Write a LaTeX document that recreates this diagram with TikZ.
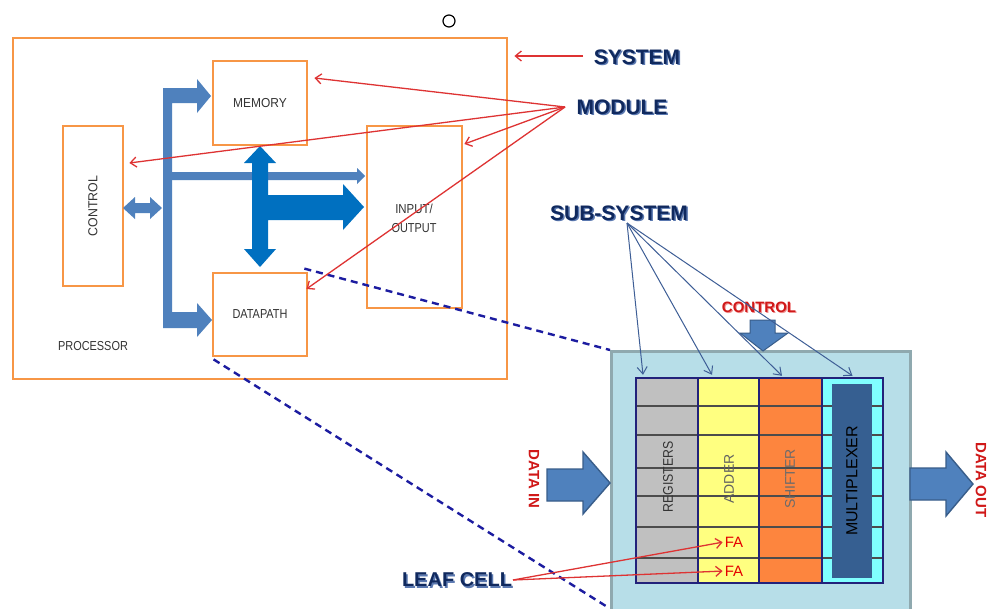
\documentclass[tikz,border=0pt]{standalone}
\usepackage{fontspec}
\setmainfont{Liberation Sans}
\usetikzlibrary{arrows.meta,calc}

\definecolor{boxorange}{HTML}{F79646}
\definecolor{busblue}{HTML}{4F81BD}
\definecolor{busdark}{HTML}{0070C0}
\definecolor{lblgray}{HTML}{333333}
\definecolor{callred}{HTML}{DE3333}
\definecolor{titlenavy}{HTML}{10295E}
\definecolor{titleshade}{HTML}{5A78B0}
\definecolor{subarrow}{HTML}{3E5E96}
\definecolor{subfill}{HTML}{B7DEE8}
\definecolor{subedge}{HTML}{8FA9AF}
\definecolor{gridnavy}{HTML}{22227A}
\definecolor{regfill}{HTML}{C0C0C0}
\definecolor{addfill}{HTML}{FFFF80}
\definecolor{shiftfill}{HTML}{FD853E}
\definecolor{muxfill}{HTML}{80FFFF}
\definecolor{muxbox}{HTML}{365F91}
\definecolor{dashnavy}{HTML}{1C1CA0}
\definecolor{portred}{HTML}{D01818}
\definecolor{portshade}{HTML}{F09090}
\definecolor{arrowedge}{HTML}{385D8A}

\newcommand{\squeeze}[2]{\scalebox{#1}[1]{#2}}

\tikzset{
  obox/.style={draw=boxorange, line width=2.8pt, inner sep=0pt},
  boxlbl/.style={text=lblgray, font=\fontsize{13}{19}\selectfont, inner sep=0pt, align=center},
  title/.style={text=titlenavy, font=\bfseries\fontsize{21}{21}\selectfont, inner sep=1pt},
  titlesh/.style={text=titleshade, font=\bfseries\fontsize{21}{21}\selectfont, inner sep=1pt},
  callout/.style={draw=callred, line width=1.3pt, -{Straight Barb[length=6pt,width=10pt]}},
  subcall/.style={draw=subarrow, line width=1pt, -{Straight Barb[length=7pt,width=10pt]}},
  cell/.style={inner sep=0pt, draw=none},
  rowline/.style={draw=black!70, line width=1.1pt},
  celltxt/.style={font=\fontsize{14}{14}\selectfont, inner sep=0pt},
  portlbl/.style={text=portred, font=\bfseries\fontsize{15}{15}\selectfont, inner sep=0pt},
  fatxt/.style={text=red!90!black, font=\fontsize{15}{15}\selectfont, inner sep=1pt},
  bigarrow/.style={fill=busblue, draw=arrowedge, line width=1.4pt, line join=miter},
  linkdash/.style={draw=dashnavy, line width=2.4pt, dash pattern=on 7pt off 5pt}
}

\begin{document}
\begin{tikzpicture}[x=1pt,y=-1pt]
\useasboundingbox (0,0) rectangle (988,608);
\fill[white] (0,0) rectangle (988,608);

% small marker circle
\draw[line width=1.2pt] (449,21) circle (6);

% ---------------- processor (system) ----------------
\node[obox, minimum width=494, minimum height=341] (proc) at (260,208.5) {};
\node[obox, minimum width=94, minimum height=84] (memory) at (260,103)
  {\textcolor{lblgray}{\fontsize{13}{13}\selectfont\squeeze{0.92}{MEMORY}}};
\node[obox, minimum width=60, minimum height=160] (control) at (93,206)
  {\rotatebox{90}{\textcolor{lblgray}{\fontsize{13}{13}\selectfont\squeeze{0.95}{CONTROL}}}};
\node[obox, minimum width=95, minimum height=182] (io) at (414.5,217) {};
\node[boxlbl] (iotext) at (414,218) {\squeeze{0.88}{INPUT/}\\\squeeze{0.84}{OUTPUT}};
\node[obox, minimum width=94, minimum height=83] (datapath) at (260,314.5)
  {\textcolor{lblgray}{\fontsize{13}{13}\selectfont\squeeze{0.84}{DATAPATH}}};
\node[boxlbl] (proclbl) at (93,346) {\squeeze{0.84}{PROCESSOR}};

% main bus with branches to memory and datapath
\fill[busblue] (163,88) -- (197,88) -- (197,79) -- (211,96) -- (197,113) -- (197,103)
  -- (172,103) -- (172,312) -- (197,312) -- (197,303) -- (212,320) -- (197,337)
  -- (197,328) -- (163,328) -- cycle;
% thin branch to input/output
\fill[busblue] (172,172) -- (357,172) -- (357,168) -- (365,176) -- (357,184)
  -- (357,180) -- (172,180) -- cycle;
% control <-> bus
\fill[busblue] (123,208) -- (135,197) -- (135,203) -- (150,203) -- (150,197)
  -- (162,208) -- (150,219) -- (150,213) -- (135,213) -- (135,219) -- cycle;
% memory <-> datapath with branch to input/output
\fill[busdark] (260,146) -- (276,163) -- (268,163) -- (268,195) -- (343,195)
  -- (343,184) -- (364,207) -- (343,230) -- (343,220) -- (268,220) -- (268,249)
  -- (276,249) -- (260,267) -- (244,249) -- (252,249) -- (252,163) -- (244,163) -- cycle;

% ---------------- sub-system block ----------------
\node[draw=subedge, fill=subfill, line width=2.5pt, inner sep=0pt,
      minimum width=299, minimum height=270, anchor=north west] (subsys) at (610,350) {};

\node[cell, fill=regfill,   minimum width=62, minimum height=205] (reg)   at (667,480.5) {};
\node[cell, fill=addfill,   minimum width=61, minimum height=205] (adder) at (728.5,480.5) {};
\node[cell, fill=shiftfill, minimum width=63, minimum height=205] (shift) at (790.5,480.5) {};
\node[cell, fill=muxfill,   minimum width=61, minimum height=205] (mux)   at (852.5,480.5) {};

\foreach \yy in {406,435,468,496,527,558}
  \draw[rowline] (636,\yy) -- (883,\yy);

\node[cell, fill=muxbox, minimum width=40, minimum height=194] (muxcore) at (852,481)
  {\rotatebox{90}{\fontsize{16}{16}\selectfont\color{black}MULTIPLEXER}};

\draw[gridnavy, line width=2.2pt] (636,378) rectangle (883,583);
\foreach \xx in {698,759,822}
  \draw[gridnavy, line width=2.2pt] (\xx,378) -- (\xx,583);

\node[celltxt, text=black!80] (regtxt) at (668,477) {\rotatebox{90}{\squeeze{0.88}{REGISTERS}}};
\node[celltxt, text=black!62] (addtxt) at (729,479) {\rotatebox{90}{ADDER}};
\node[celltxt, text=black!58] (shifttxt) at (790,479) {\rotatebox{90}{SHIFTER}};

\node[fatxt] (fa1) at (734,542) {FA};
\node[fatxt] (fa2) at (734,571) {FA};

% control input arrow
\draw[bigarrow, line width=1pt] (750,320) -- (775,320) -- (775,333) -- (788,333)
  -- (763,351) -- (740,333) -- (750,333) -- cycle;
\node[portlbl, text=portshade] (ctlsh) at (760,308) {CONTROL};
\node[portlbl] (ctl) at (759,307) {CONTROL};

% data in / data out arrows
\draw[bigarrow] (547,469) -- (583,469) -- (583,452) -- (610,483) -- (583,514)
  -- (583,501) -- (547,501) -- cycle;
\draw[bigarrow] (910,468) -- (946,468) -- (946,452) -- (973,484) -- (946,516)
  -- (946,500) -- (910,500) -- cycle;
\node[portlbl] (datain) at (534,479) {\rotatebox{-90}{DATA IN}};
\node[portlbl] (dataout) at (981,480) {\rotatebox{-90}{DATA OUT}};

% zoom-in links from the datapath
\coordinate (dpcorner) at ($(datapath.north east)+(-4,-3)$);
\coordinate (dpfoot) at ($(datapath.south west)+(2,2)$);
\coordinate (subfoot) at (609,608);
\draw[linkdash] (dpcorner) -- (subsys.north west);
\draw[linkdash] (dpfoot) -- (subfoot);

% ---------------- hierarchy labels ----------------
\node[titlesh] (systemsh) at (638.5,58.5) {SYSTEM};
\node[title] (system) at (637,57) {SYSTEM};
\node[titlesh] (modulesh) at (623.5,108.5) {MODULE};
\node[title] (module) at (622,107) {MODULE};
\node[titlesh] (subsyssh) at (620.5,214.5) {SUB-SYSTEM};
\node[title] (subsyslbl) at (619,213) {SUB-SYSTEM};
\node[titlesh, font=\bfseries\fontsize{20}{20}\selectfont] (leafsh) at (458.5,581.5) {LEAF CELL};
\node[title, font=\bfseries\fontsize{20}{20}\selectfont] (leaf) at (457,580) {LEAF CELL};

% system callout
\coordinate (systail) at (583,56);
\coordinate (systip) at ($(systail -| proc.east)+(6,0)$);
\draw[callout] (systail) -- (systip);

% module callouts
\coordinate (modsrc) at (565,107);
\coordinate (memtip) at ($(memory.east)+(6,-25)$);
\coordinate (ctltip) at ($(control.east)+(5,-43)$);
\coordinate (iotip) at ($(io.east)+(1,-73)$);
\coordinate (dptip) at ($(datapath.east)+(-2,-25.5)$);
\draw[callout] (modsrc) -- (memtip);
\draw[callout] (modsrc) -- (ctltip);
\draw[callout] (modsrc) -- (iotip);
\draw[callout] (modsrc) -- (dptip);

% sub-system callouts
\coordinate (subsrc) at (627,223);
\draw[subcall] (subsrc) -- ($(reg.north)+(-24,-3)$);
\draw[subcall] (subsrc) -- ($(adder.north)+(-16.5,-3)$);
\draw[subcall] (subsrc) -- ($(shift.north)+(-8.5,-2)$);
\draw[subcall] (subsrc) -- ($(mux.north)+(0,-2)$);

% leaf cell callouts
\coordinate (leafsrc) at (513,580);
\draw[callout, shorten >=1pt] (leafsrc) -- (fa1.west);
\draw[callout, shorten >=1pt] (leafsrc) -- (fa2.west);
\end{tikzpicture}
\end{document}
